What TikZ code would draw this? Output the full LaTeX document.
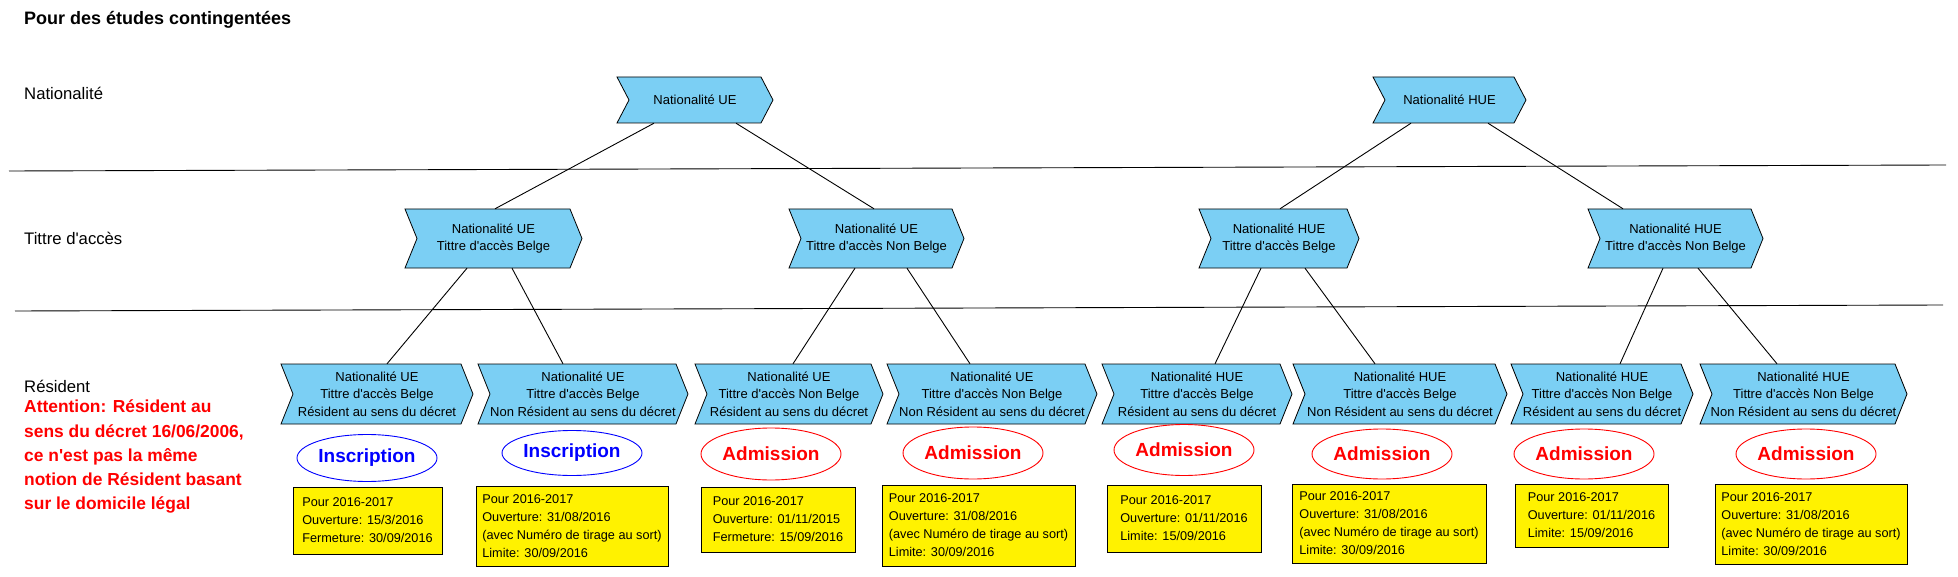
\documentclass[tikz,border=0pt]{standalone}
\usepackage{fontspec}
\setmainfont{Liberation Sans}[Ligatures=TeXOff]
\usetikzlibrary{shapes.geometric}
\definecolor{chevblue}{RGB}{123,207,244}
\tikzset{
 chevron/.style={draw=black, fill=chevblue, line width=0.8pt, line join=miter},
 chevtext/.style={inner sep=0pt, align=center, font=\fontsize{13}{17.3}\selectfont},
 conn/.style={draw=black, line width=0.9pt},
 sepline/.style={draw=black, line width=0.9pt},
 lbl/.style={anchor=base west, inner sep=0pt, font=\fontsize{16.7}{20}\selectfont},
 oval/.style={ellipse, draw, line width=0.9pt, minimum width=140pt, minimum height=50pt, inner sep=0pt, font=\bfseries\fontsize{19}{22}\selectfont},
 insc/.style={oval, draw=blue, text=blue},
 adm/.style={oval, draw=red, text=red},
 datebox/.style={draw=black, fill=yellow, line width=0.9pt, align=left, inner sep=0pt, font=\fontsize{12.7}{18}\selectfont}
}
% name, x0, x1, ytop, ybottom, text
\newcommand\mychev[6]{%
 \path[chevron] (#2,#4) -- (#3-12,#4) -- (#3,{(#4+#5)/2}) -- (#3-12,#5) -- (#2,#5) -- (#2+12,{(#4+#5)/2}) -- cycle;
 \node[chevtext, minimum width={#3-#2}, minimum height={#5-#4}] (#1) at ({(#2+#3)/2},{(#4+#5)/2}) {#6};
}
\begin{document}
\begin{tikzpicture}[x=1pt,y=-1pt]
\useasboundingbox (0,0) rectangle (1958,577);

% row labels
\node[lbl, font=\bfseries\fontsize{18}{22}\selectfont] (title) at (24,25) {Pour des études contingentées};
\node[lbl] (lnat) at (24,99.5) {Nationalité};
\node[lbl] (ltit) at (24,244) {Tittre d'accès};
\node[lbl] (lres) at (24,392) {Résident};
\node[anchor=north west, inner sep=0pt, align=left, text=red, font=\bfseries\fontsize{17.4}{24.2}\selectfont] (warn) at (24,400) {Attention: Résident au\\sens du décret 16/06/2006,\\ce n'est pas la même\\notion de Résident basant\\sur le domicile légal};

% separators
\draw[sepline] (9,171) -- (1946,165);
\draw[sepline] (15,311) -- (1943,305);

% top level
\mychev{nue}{617}{773}{77}{123}{Nationalité UE}
\mychev{nhue}{1373}{1526}{77}{123}{Nationalité HUE}

% middle level
\mychev{m1}{405}{582}{209}{268}{Nationalité UE\\Tittre d'accès Belge}
\mychev{m2}{789}{964}{209}{268}{Nationalité UE\\Tittre d'accès Non Belge}
\mychev{m3}{1199}{1359}{209}{268}{Nationalité HUE\\Tittre d'accès Belge}
\mychev{m4}{1588}{1763}{209}{268}{Nationalité HUE\\Tittre d'accès Non Belge}

% bottom level
\mychev{b1}{281}{473}{364}{424}{Nationalité UE\\Tittre d'accès Belge\\Résident au sens du décret}
\mychev{b2}{478}{688}{364}{424}{Nationalité UE\\Tittre d'accès Belge\\Non Résident au sens du décret}
\mychev{b3}{695}{883}{364}{424}{Nationalité UE\\Tittre d'accès Non Belge\\Résident au sens du décret}
\mychev{b4}{887}{1097}{364}{424}{Nationalité UE\\Tittre d'accès Non Belge\\Non Résident au sens du décret}
\mychev{b5}{1102}{1292}{364}{424}{Nationalité HUE\\Tittre d'accès Belge\\Résident au sens du décret}
\mychev{b6}{1293}{1507}{364}{424}{Nationalité HUE\\Tittre d'accès Belge\\Non Résident au sens du décret}
\mychev{b7}{1511}{1693}{364}{424}{Nationalité HUE\\Tittre d'accès Non Belge\\Résident au sens du décret}
\mychev{b8}{1700}{1907}{364}{424}{Nationalité HUE\\Tittre d'accès Non Belge\\Non Résident au sens du décret}

% connectors
\draw[conn] ([xshift=-41pt]nue.south) -- ([xshift=1.5pt]m1.north);
\draw[conn] ([xshift=41pt]nue.south) -- ([xshift=-2.5pt]m2.north);
\draw[conn] ([xshift=-38.5pt]nhue.south) -- ([xshift=1pt]m3.north);
\draw[conn] ([xshift=38.5pt]nhue.south) -- ([xshift=-52.5pt]m4.north);
\draw[conn] ([xshift=-26.5pt]m1.south) -- ([xshift=10pt]b1.north);
\draw[conn] ([xshift=18.5pt]m1.south) -- ([xshift=-20pt]b2.north);
\draw[conn] ([xshift=-21.5pt]m2.south) -- ([xshift=4pt]b3.north);
\draw[conn] ([xshift=30.5pt]m2.south) -- ([xshift=-22pt]b4.north);
\draw[conn] ([xshift=-18pt]m3.south) -- ([xshift=18pt]b5.north);
\draw[conn] ([xshift=26pt]m3.south) -- ([xshift=-25pt]b6.north);
\draw[conn] ([xshift=-12.5pt]m4.south) -- ([xshift=18pt]b7.north);
\draw[conn] ([xshift=22.5pt]m4.south) -- ([xshift=-26.5pt]b8.north);

% ellipses
\node[insc, minimum height=47pt] (e1) at (367,458) {Inscription};
\node[insc, minimum height=45pt] (e2) at (572,453) {Inscription};
\node[adm, minimum height=52pt] (e3) at (771,454) {Admission};
\node[adm, minimum height=52pt] (e4) at (973,453) {Admission};
\node[adm, minimum height=51pt] (e5) at (1184,450) {Admission};
\node[adm] (e6) at (1382,454) {Admission};
\node[adm] (e7) at (1584,454) {Admission};
\node[adm] (e8) at (1806,454) {Admission};

% date boxes
\node[datebox, minimum width=149pt, minimum height=67pt] (d1) at (367.5,520.5) {Pour 2016-2017\\Ouverture: 15/3/2016\\Fermeture: 30/09/2016};
\node[datebox, minimum width=192pt, minimum height=80pt] (d2) at (572,526) {Pour 2016-2017\\Ouverture: 31/08/2016\\(avec Numéro de tirage au sort)\\Limite: 30/09/2016};
\node[datebox, minimum width=154pt, minimum height=65pt] (d3) at (778,519.5) {Pour 2016-2017\\Ouverture: 01/11/2015\\Fermeture: 15/09/2016};
\node[datebox, minimum width=193pt, minimum height=81pt] (d4) at (978.5,525.5) {Pour 2016-2017\\Ouverture: 31/08/2016\\(avec Numéro de tirage au sort)\\Limite: 30/09/2016};
\node[datebox, minimum width=154pt, minimum height=67pt] (d5) at (1184,518.5) {Pour 2016-2017\\Ouverture: 01/11/2016\\Limite: 15/09/2016};
\node[datebox, minimum width=194pt, minimum height=79pt] (d6) at (1389,523.5) {Pour 2016-2017\\Ouverture: 31/08/2016\\(avec Numéro de tirage au sort)\\Limite: 30/09/2016};
\node[datebox, minimum width=153pt, minimum height=63pt] (d7) at (1591.5,515.5) {Pour 2016-2017\\Ouverture: 01/11/2016\\Limite: 15/09/2016};
\node[datebox, minimum width=192pt, minimum height=80pt] (d8) at (1811,524) {Pour 2016-2017\\Ouverture: 31/08/2016\\(avec Numéro de tirage au sort)\\Limite: 30/09/2016};
\end{tikzpicture}
\end{document}
